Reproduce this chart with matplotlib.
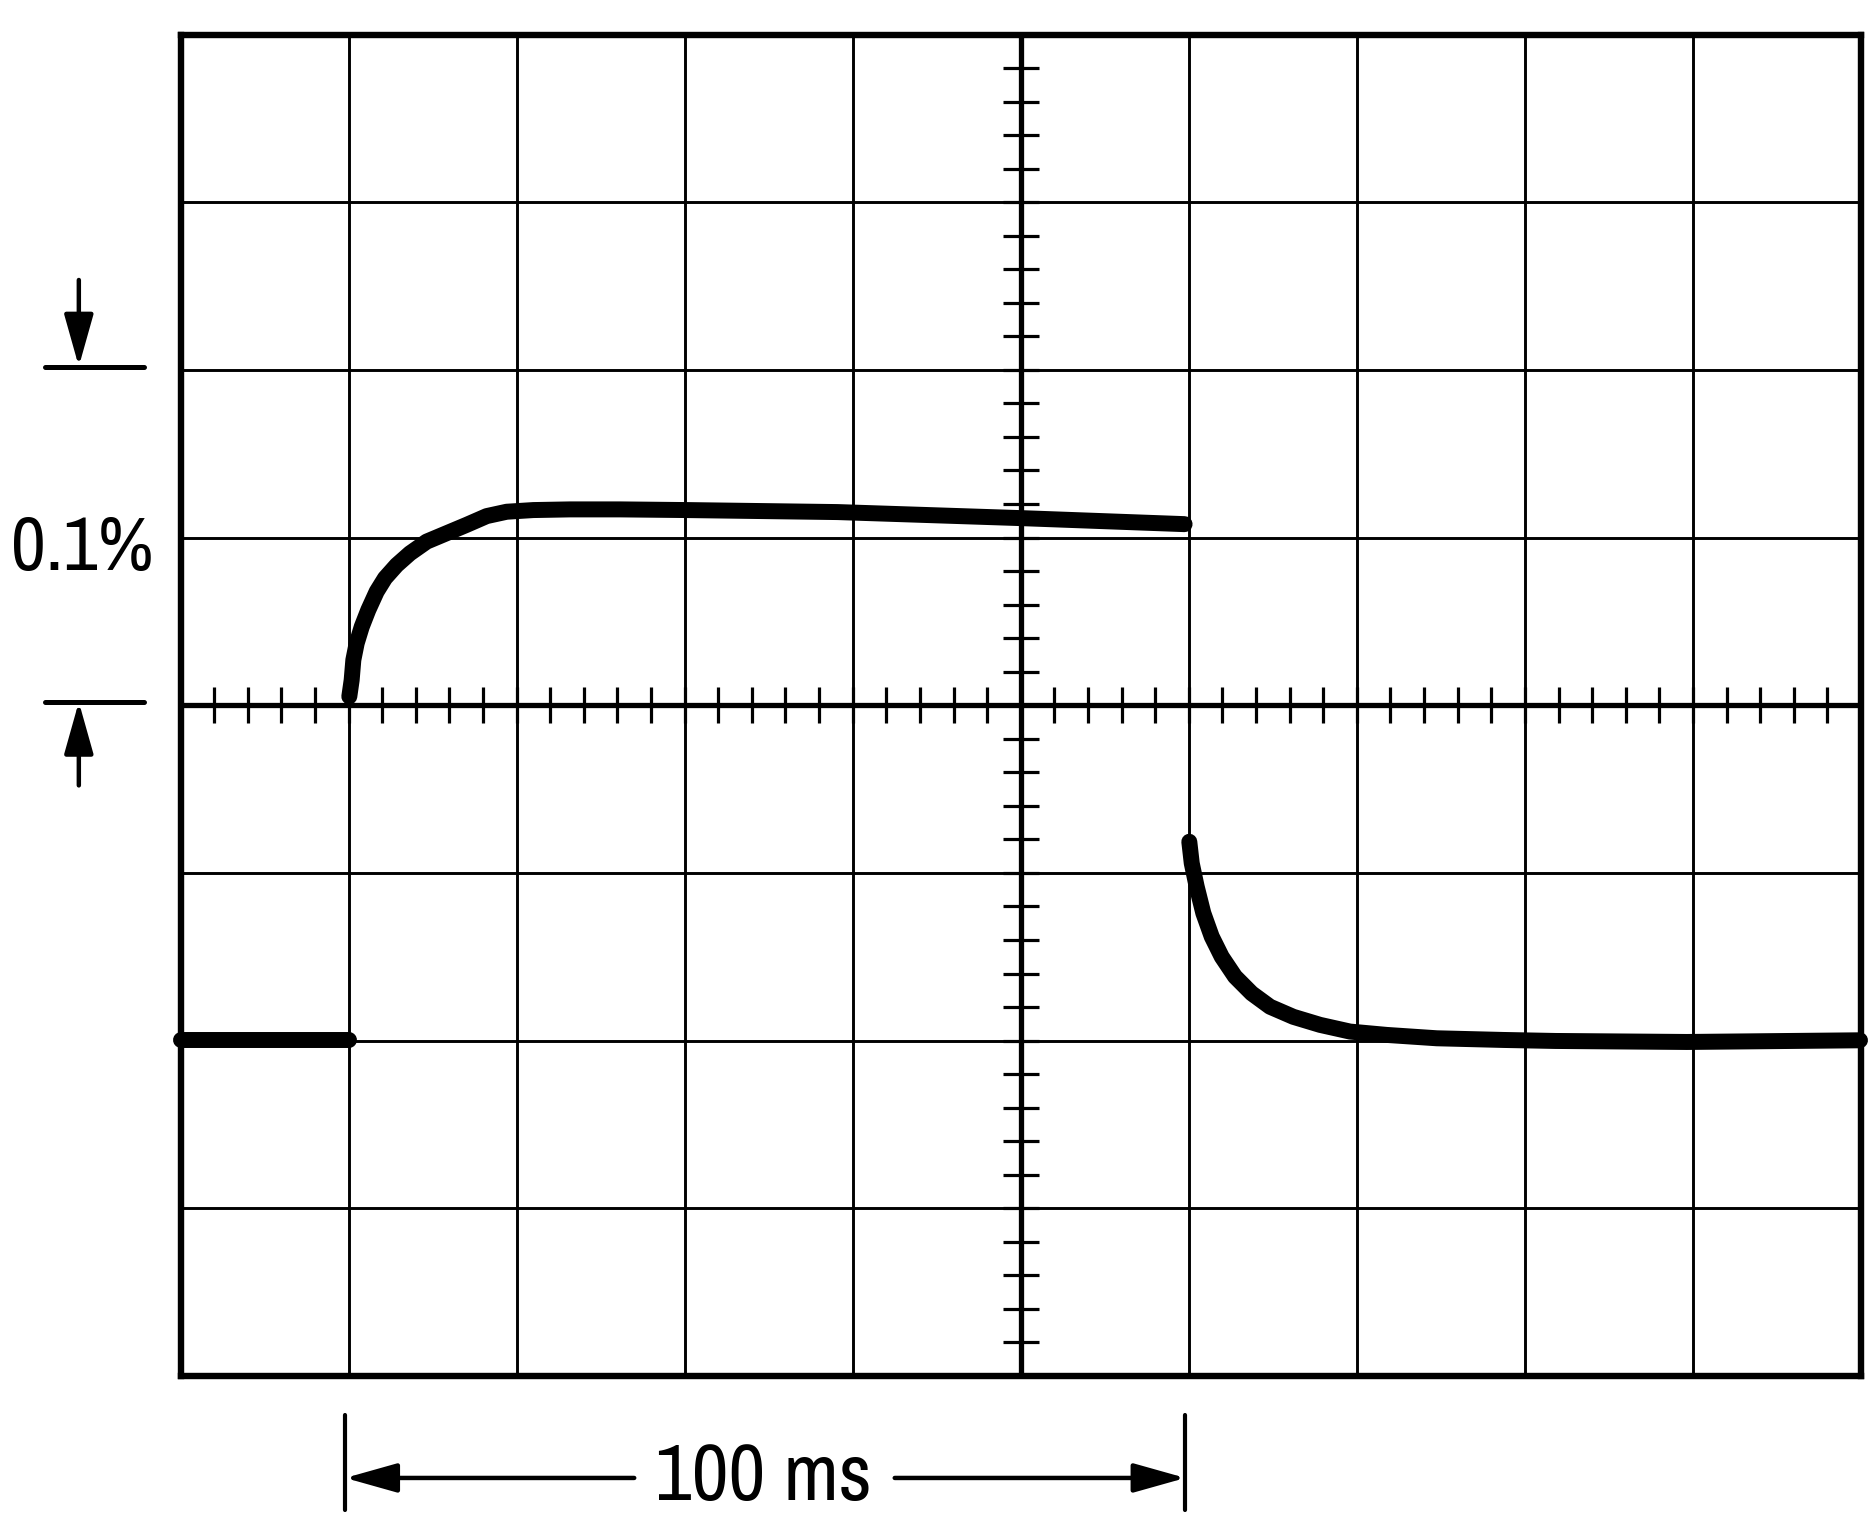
import matplotlib
matplotlib.use("Agg")
import matplotlib.pyplot as plt
from matplotlib import font_manager
import numpy as np

# scope settings: 10 x 8 divisions, 20 ms/div, 0.05 %/div
MS_PER_DIV = 20.0
PCT_PER_DIV = 0.05
N_XDIV, N_YDIV = 10, 8
N_SUB = 5

# trace (time in ms, deviation in %)
low_t = [0.0, 20.0]
low_v = [-0.0997, -0.0997]

rise_t = [20.09, 20.37, 20.57, 20.97, 21.57, 22.35, 23.35, 24.34, 25.73,
          27.31, 29.30, 31.68, 34.06, 36.44, 38.82, 41.99, 46.36, 52.31,
          60.24, 78.2, 100.0, 119.5]
rise_v = [0.0026, 0.0075, 0.0135, 0.0185, 0.0234, 0.0284, 0.0339, 0.0379,
          0.0418, 0.0453, 0.0488, 0.0513, 0.0538, 0.0564, 0.0577, 0.0582,
          0.0584, 0.0584, 0.0582, 0.0576, 0.0558, 0.0540]

fall_t = [120.06, 120.35, 120.94, 121.73, 122.73, 123.92, 125.50, 127.49,
          129.67, 132.44, 135.62, 139.19, 143.56, 149.51, 157.43, 163.62,
          179.29, 199.88]
fall_v = [-0.0407, -0.0471, -0.0541, -0.0620, -0.0690, -0.0750, -0.0809,
          -0.0859, -0.0899, -0.0929, -0.0953, -0.0973, -0.0983, -0.0993,
          -0.0998, -0.1001, -0.1004, -0.0999]

# annotation values
step_start, step_end = 20.0, 120.0
span_label = "100 ms"
amp_label = "0.1%"
amp_lo, amp_hi = 0.0, 0.1

names = {f.name for f in font_manager.fontManager.ttflist}
FONT, FS_AMP, FS_SPAN = "DejaVu Sans", 48, 48
for cand, fa, fsp in [("Liberation Sans Narrow", 55, 54),
                      ("Archivo Narrow", 55, 58)]:
    if cand in names:
        FONT, FS_AMP, FS_SPAN = cand, fa, fsp
        break

xmax = N_XDIV * MS_PER_DIV
ymax = N_YDIV / 2 * PCT_PER_DIV

fig = plt.figure(figsize=(18.76, 15.2), dpi=100)
ax = fig.add_axes([180.5 / 1876, 144 / 1520, 1680.5 / 1876, 1341.5 / 1520])
ax.set_xlim(0, xmax)
ax.set_ylim(-ymax, ymax)
ax.set_xticks([])
ax.set_yticks([])
for sp in ax.spines.values():
    sp.set_linewidth(4.6)
    sp.set_color("black")

# graticule
for i in range(1, N_XDIV):
    ax.axvline(i * MS_PER_DIV, color="black", lw=2.1, zorder=1)
for j in range(1, N_YDIV):
    ax.axhline(-ymax + j * PCT_PER_DIV, color="black", lw=2.1, zorder=1)
xc, yc = xmax / 2, 0.0
ax.axvline(xc, color="black", lw=3.8, zorder=2)
ax.axhline(yc, color="black", lw=3.8, zorder=2)

# minor ticks on the centre lines
tx = np.arange(1, N_XDIV * N_SUB) * MS_PER_DIV / N_SUB
ty = -ymax + np.arange(1, N_YDIV * N_SUB) * PCT_PER_DIV / N_SUB
hx = 0.107 * MS_PER_DIV
hy = 0.107 * PCT_PER_DIV
ax.vlines(tx, yc - hy, yc + hy, color="black", lw=2.3, zorder=2)
ax.hlines(ty, xc - hx, xc + hx, color="black", lw=2.3, zorder=2)

# trace
for t, v in [(low_t, low_v), (rise_t, rise_v), (fall_t, fall_v)]:
    ax.plot(t, v, color="black", lw=11.5, solid_capstyle="round",
            solid_joinstyle="round", zorder=5, clip_on=False)

arrow = dict(arrowstyle="-|>,head_length=1.6,head_width=0.45",
             mutation_scale=20, lw=3.2, color="black",
             shrinkA=0, shrinkB=0, capstyle="round")

# amplitude marker on the left
lx0, lx1 = -16.1, -4.3
amp_x = -12.1
for yy in (amp_lo, amp_hi):
    ax.plot([lx0, lx1], [yy + 0.001, yy + 0.001], color="black", lw=3.6,
            solid_capstyle="round", clip_on=False)
ax.annotate("", xy=(amp_x, amp_hi + 0.001), xytext=(amp_x, amp_hi + 0.0268),
            arrowprops=arrow, annotation_clip=False)
ax.annotate("", xy=(amp_x, amp_lo + 0.001), xytext=(amp_x, amp_lo - 0.0239),
            arrowprops=arrow, annotation_clip=False)
ax.text(-11.65, 0.0403, amp_label, ha="center", va="baseline",
        fontsize=FS_AMP, family=FONT, clip_on=False)

# time span marker below
bar_lo, bar_hi = -0.240, -0.2115
y_dim = -0.2304
for xx in (step_start, step_end):
    ax.plot([xx - 0.4, xx - 0.4], [bar_lo, bar_hi], color="black", lw=3.0,
            solid_capstyle="round", clip_on=False)
ax.annotate("", xy=(step_start - 0.4, y_dim), xytext=(54.0, y_dim),
            arrowprops=arrow, annotation_clip=False)
ax.annotate("", xy=(step_end - 0.4, y_dim), xytext=(85.0, y_dim),
            arrowprops=arrow, annotation_clip=False)
ax.text(69.4, -0.23695, span_label, ha="center", va="baseline",
        fontsize=FS_SPAN, family=FONT, clip_on=False)

fig.savefig("out.png", dpi=100, facecolor="white")
